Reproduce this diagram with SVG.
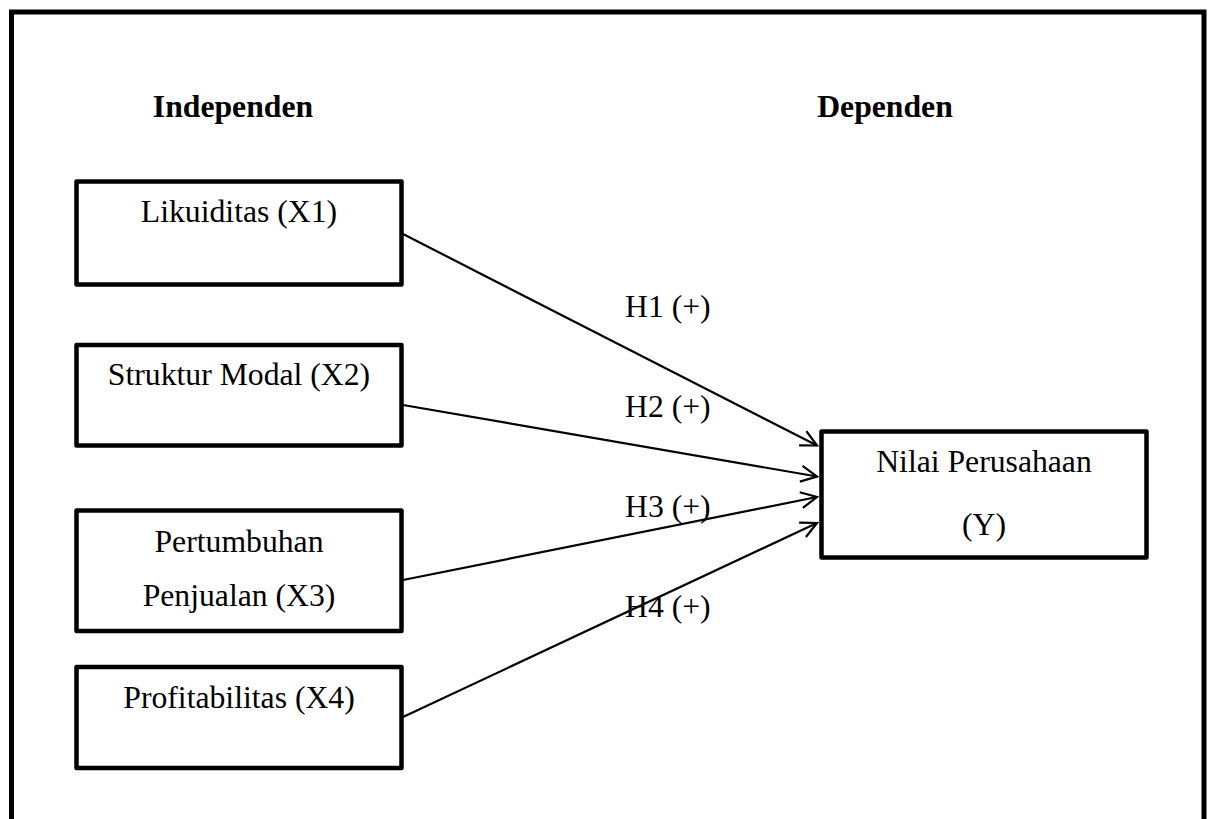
<svg xmlns="http://www.w3.org/2000/svg" width="1208" height="819" viewBox="0 0 1208 819">
<defs>
<style>
.box{fill:#fff;stroke:#000;stroke-width:4.5;stroke-linejoin:round}
.t{font-family:"Liberation Serif","Times New Roman",serif;font-size:31.7px;fill:#000;text-anchor:middle}
.h{font-family:"Liberation Serif","Times New Roman",serif;font-size:31.7px;font-weight:bold;fill:#000;text-anchor:middle}
.lbl{font-family:"Liberation Serif","Times New Roman",serif;font-size:31.7px;fill:#000}
.c{stroke:#000;stroke-width:2.2;fill:none}
</style>
<marker id="arr" viewBox="0 0 20 20" refX="18" refY="10" markerWidth="20" markerHeight="20" markerUnits="userSpaceOnUse" orient="auto">
<path d="M2,2 L18,10 L2,18" fill="none" stroke="#000" stroke-width="2.2"/>
</marker>
</defs>
<rect width="1208" height="819" fill="#fff"/>
<path d="M11.5,819 V12 H1204 V819" fill="none" stroke="#000" stroke-width="5"/>
<text class="h" x="233" y="117">Independen</text>
<text class="h" x="885" y="117">Dependen</text>
<g id="x1"><rect class="box" x="76.5" y="181.5" width="325" height="103"/><text class="t" x="239" y="222">Likuiditas (X1)</text></g>
<g id="x2"><rect class="box" x="76.5" y="345" width="325" height="100.5"/><text class="t" x="239" y="385">Struktur Modal (X2)</text></g>
<g id="x3"><rect class="box" x="76.5" y="510.5" width="325" height="120.5"/><text class="t" x="239" y="552">Pertumbuhan</text><text class="t" x="239" y="606">Penjualan (X3)</text></g>
<g id="x4"><rect class="box" x="76.5" y="667" width="325" height="101"/><text class="t" x="239" y="708">Profitabilitas (X4)</text></g>
<g id="y"><rect class="box" x="821.5" y="431.5" width="325" height="126"/><text class="t" x="984" y="472">Nilai Perusahaan</text><text class="t" x="984" y="535">(Y)</text></g>
<g id="connectors">
<line class="c" x1="403" y1="234" x2="817" y2="445.5" marker-end="url(#arr)"/>
<line class="c" x1="403" y1="405" x2="817" y2="476.5" marker-end="url(#arr)"/>
<line class="c" x1="403" y1="580" x2="817" y2="497" marker-end="url(#arr)"/>
<line class="c" x1="403" y1="717" x2="817" y2="523" marker-end="url(#arr)"/>
<text class="lbl" x="625" y="317">H1 (+)</text>
<text class="lbl" x="625" y="417">H2 (+)</text>
<text class="lbl" x="625" y="517">H3 (+)</text>
<text class="lbl" x="625" y="617">H4 (+)</text>
</g>
</svg>
